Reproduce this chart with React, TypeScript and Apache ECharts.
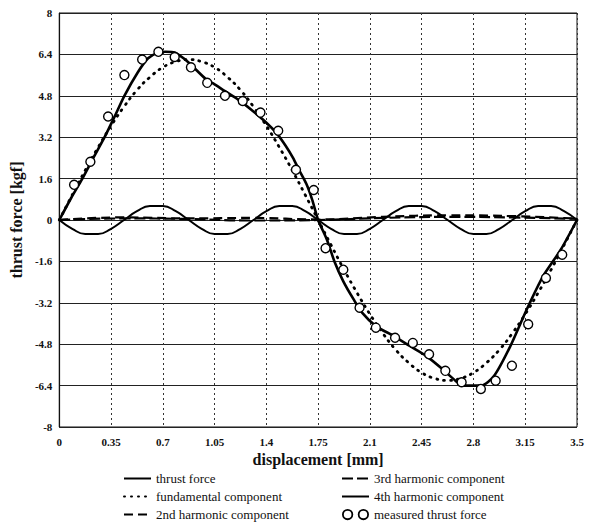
import React, { useEffect, useRef } from "react";
import * as echarts from "echarts";

// sampling grid for the harmonic components (mm)
const harmonicX = [
  0, 0.0875, 0.175, 0.2625, 0.35, 0.4375, 0.525, 0.6125, 0.7, 0.7875, 0.875,
  0.9625, 1.05, 1.1375, 1.225, 1.3125, 1.4, 1.4875, 1.575, 1.6625, 1.75,
  1.8375, 1.925, 2.0125, 2.1, 2.1875, 2.275, 2.3625, 2.45, 2.5375, 2.625,
  2.7125, 2.8, 2.8875, 2.975, 3.0625, 3.15, 3.2375, 3.325, 3.4125, 3.5,
];
const fundamental = [
  0, 0.97, 1.92, 2.81, 3.64, 4.38, 5.02, 5.52, 5.9, 6.12, 6.2,
  6.12, 5.9, 5.52, 5.02, 4.38, 3.64, 2.81, 1.92, 0.97, 0,
  -0.97, -1.92, -2.81, -3.64, -4.38, -5.02, -5.52, -5.9, -6.12, -6.2,
  -6.12, -5.9, -5.52, -5.02, -4.38, -3.64, -2.81, -1.92, -0.97, 0,
];
const fourthHarmonic = [
  0, -0.34, -0.54, -0.54, -0.34, 0, 0.34, 0.54, 0.54, 0.34,
  0, -0.34, -0.54, -0.54, -0.34, 0, 0.34, 0.54, 0.54, 0.34,
  0, -0.34, -0.54, -0.54, -0.34, 0, 0.34, 0.54, 0.54, 0.34,
  0, -0.34, -0.54, -0.54, -0.34, 0, 0.34, 0.54, 0.54, 0.34, 0,
];
const lowHarmonicX = [0, 0.4375, 0.875, 1.3125, 1.75, 2.1875, 2.625, 3.0625, 3.5];
const secondHarmonic = [0, 0.1, 0.06, 0.08, 0.02, 0.12, 0.18, 0.15, 0.05];
const thirdHarmonic = [0, 0.06, 0.04, -0.02, 0, 0.08, 0.12, 0.1, 0.04];

const thrustX = [
  0, 0.08, 0.156, 0.23, 0.306, 0.37, 0.44, 0.53, 0.6, 0.66, 0.72, 0.78, 0.84,
  0.89, 0.99, 1.04, 1.12, 1.21, 1.3, 1.4, 1.47, 1.53, 1.58, 1.62, 1.67, 1.71,
  1.75, 1.81, 1.86, 1.92, 1.99, 2.05, 2.14, 2.26, 2.37, 2.48, 2.59, 2.68, 2.73,
  2.85, 2.94, 3.05, 3.16, 3.27, 3.39, 3.5,
];
const thrustY = [
  0, 0.85, 1.6, 2.4, 3.2, 3.95, 4.8, 5.7, 6.25, 6.45, 6.5, 6.47, 6.25,
  6.0, 5.45, 5.28, 4.98, 4.65, 4.25, 3.76, 3.35, 2.87, 2.4, 1.94, 1.4, 0.78,
  0, -0.77, -1.6, -2.37, -3.07, -3.6, -4.1, -4.48, -4.87, -5.25, -5.76, -6.22, -6.4,
  -6.4, -6.02, -4.87, -3.46, -2.18, -1.15, 0,
];

const measuredX = [
  0.1, 0.21, 0.33, 0.44, 0.56, 0.67, 0.78, 0.89, 1.0, 1.12, 1.24, 1.36, 1.48,
  1.6, 1.72, 1.8, 1.92, 2.03, 2.14, 2.27, 2.39, 2.5, 2.61, 2.72, 2.85, 2.95,
  3.06, 3.17, 3.29, 3.4,
];
const measuredY = [
  1.36, 2.25, 4.0, 5.6, 6.2, 6.5, 6.3, 5.9, 5.3, 4.8, 4.6, 4.15, 3.45,
  1.94, 1.16, -1.09, -1.92, -3.39, -4.16, -4.55, -4.75, -5.19, -5.83, -6.27, -6.53, -6.21,
  -5.63, -4.03, -2.24, -1.34,
];

const seriesNames = [
  "thrust force",
  "fundamental component",
  "2nd harmonic component",
  "3rd harmonic component",
  "4th harmonic component",
  "measured thrust force",
];

const zip = (xs: number[], ys: number[]) => xs.map((x, i) => [x, ys[i]]);

const SERIF = "'Liberation Serif', 'DejaVu Serif', serif";

export default function App() {
  const ref = useRef<HTMLDivElement>(null);
  useEffect(() => {
    if (!ref.current) return;
    const chart = echarts.init(ref.current, null, { renderer: "svg" });
    const legendText = { fontFamily: SERIF, fontSize: 13, color: "#111" };
    const twoCircles =
      "path://M0,5a5,5 0 1,0 10,0a5,5 0 1,0 -10,0ZM1.6,5a3.4,3.4 0 1,1 6.8,0a3.4,3.4 0 1,1 -6.8,0Z" +
      "M14,5a5,5 0 1,0 10,0a5,5 0 1,0 -10,0ZM15.6,5a3.4,3.4 0 1,1 6.8,0a3.4,3.4 0 1,1 -6.8,0Z";
    const legendBase = {
      orient: "vertical",
      top: 467,
      itemGap: 5,
      itemWidth: 27,
      itemHeight: 12,
      textStyle: legendText,
      itemStyle: { opacity: 0 },
    };
    chart.setOption({
      animation: false,
      backgroundColor: "#fff",
      grid: {
        left: 57,
        right: 12,
        top: 13,
        bottom: 102,
        show: true,
        borderColor: "#111",
        borderWidth: 1,
      },
      legend: [
        {
          ...legendBase,
          data: [seriesNames[0], seriesNames[1], seriesNames[2]],
          left: 118,
        },
        {
          ...legendBase,
          data: [
            seriesNames[3],
            seriesNames[4],
            {
              name: seriesNames[5],
              icon: twoCircles,
              itemStyle: { opacity: 1, color: "#000", borderWidth: 0 },
            },
          ],
          left: 336,
        },
      ],
      xAxis: {
        type: "value",
        min: 0,
        max: 3.5,
        interval: 0.35,
        name: "displacement [mm]",
        nameLocation: "middle",
        nameGap: 24,
        nameTextStyle: { fontFamily: SERIF, fontSize: 16, fontWeight: "bold", color: "#111" },
        axisLine: { show: false },
        axisTick: { show: false },
        axisLabel: {
          margin: 9,
          fontFamily: SERIF,
          fontSize: 11,
          fontWeight: "bold",
          color: "#111",
          formatter: (v: number) => String(parseFloat(v.toFixed(2))),
        },
        splitLine: { show: true, lineStyle: { color: "#333", width: 1, type: [2, 3] } },
      },
      yAxis: {
        type: "value",
        min: -8,
        max: 8,
        interval: 1.6,
        name: "thrust force [kgf]",
        nameLocation: "middle",
        nameGap: 32,
        nameTextStyle: { fontFamily: SERIF, fontSize: 16, fontWeight: "bold", color: "#111" },
        axisLine: { show: true, lineStyle: { color: "#111", width: 1.2 } },
        axisTick: { show: false },
        axisLabel: {
          margin: 7,
          fontFamily: SERIF,
          fontSize: 11,
          fontWeight: "bold",
          color: "#111",
          formatter: (v: number) => String(parseFloat(v.toFixed(1))),
        },
        splitLine: { show: true, lineStyle: { color: "#222", width: 1.1 } },
      },
      series: [
        {
          name: seriesNames[0],
          type: "line",
          data: zip(thrustX, thrustY),
          symbol: "none",
          smooth: 0.25,
          lineStyle: { color: "#000", width: 2.6 },
          itemStyle: { color: "#000" },
          z: 5,
        },
        {
          name: seriesNames[1],
          type: "line",
          data: zip(harmonicX, fundamental),
          symbol: "none",
          smooth: true,
          lineStyle: { color: "#000", width: 2.8, type: [1, 6], cap: "round" },
          itemStyle: { color: "#000" },
          z: 4,
        },
        {
          name: seriesNames[2],
          type: "line",
          data: zip(lowHarmonicX, secondHarmonic),
          symbol: "none",
          smooth: true,
          lineStyle: { color: "#000", width: 2.2, type: [9, 5] },
          itemStyle: { color: "#000" },
        },
        {
          name: seriesNames[3],
          type: "line",
          data: zip(lowHarmonicX, thirdHarmonic),
          symbol: "none",
          smooth: true,
          lineStyle: { color: "#000", width: 2.2, type: [11, 4] },
          itemStyle: { color: "#000" },
        },
        {
          name: seriesNames[4],
          type: "line",
          data: zip(harmonicX, fourthHarmonic),
          symbol: "none",
          smooth: true,
          lineStyle: { color: "#000", width: 2 },
          itemStyle: { color: "#000" },
        },
        {
          name: seriesNames[5],
          type: "scatter",
          data: zip(measuredX, measuredY),
          symbol: "circle",
          symbolSize: 9,
          itemStyle: { color: "#fff", borderColor: "#000", borderWidth: 1.4, opacity: 1 },
          z: 6,
        },
      ],
    });
    return () => chart.dispose();
  }, []);
  return (
    <div
      ref={ref}
      style={{ position: "fixed", left: 0, top: 0, width: 589, height: 529, background: "#fff" }}
    />
  );
}
